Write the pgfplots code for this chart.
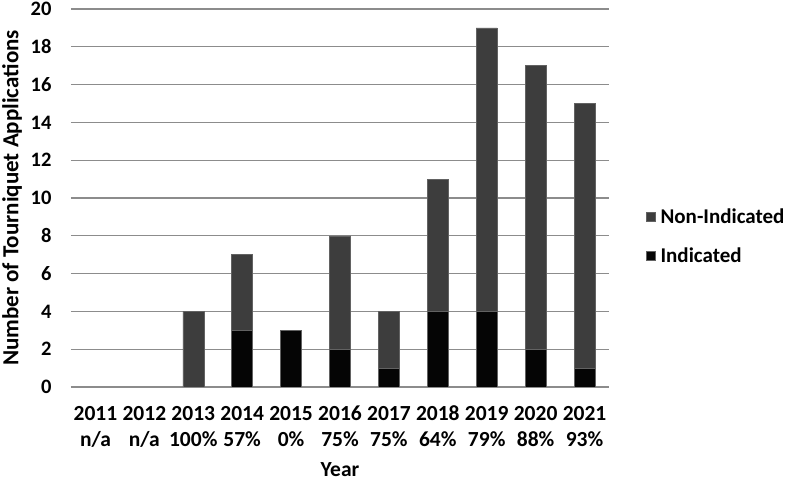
\documentclass[border=0pt]{standalone}
\usepackage{pgfplots}
\pgfplotsset{compat=1.18}
\usepackage{fontspec}
\setmainfont{Carlito}
\definecolor{nonind}{HTML}{3D3D3D}
\definecolor{ind}{HTML}{050505}
\definecolor{gridc}{HTML}{8C8C8C}
\begin{document}
\begin{tikzpicture}
\useasboundingbox (-71pt,-91pt) rectangle (714pt,387pt);
\begin{axis}[
  at={(0pt,0pt)}, anchor=south west,
  scale only axis, width=538pt, height=378pt,
  ybar stacked, bar width=21pt,
  xmin=-0.5, xmax=10.5, ymin=0, ymax=20,
  ytick={0,2,...,20},
  xtick={0,...,10},
  xticklabels={{\strut 2011\\n/a},{\strut 2012\\n/a},{\strut 2013\\100\%},{\strut 2014\\57\%},{\strut 2015\\0\%},{\strut 2016\\75\%},{\strut 2017\\75\%},{\strut 2018\\64\%},{\strut 2019\\79\%},{\strut 2020\\88\%},{\strut 2021\\93\%}},
  xticklabel style={align=center, font=\bfseries\fontsize{21.5}{26}\selectfont},
  xticklabel shift=12pt,
  yticklabel style={font=\bfseries\fontsize{20.5}{24}\selectfont},
  yticklabel shift=16pt,
  /pgf/number format/assume math mode=true,
  major tick length=0pt,
  axis line style={draw=none},
  ymajorgrids, grid style={gridc, line width=1.3pt},
  xlabel={Year}, ylabel={Number of Tourniquet Applications},
  xlabel style={font=\bfseries\fontsize{21.5}{24}\selectfont, yshift=-8pt},
  ylabel style={font=\bfseries\fontsize{23}{26}\selectfont, at={(rel axis cs:0,0.5)}, anchor=center, yshift=59pt},
  legend style={draw=none, at={(1.063,0.398)}, anchor=west, font=\bfseries\fontsize{21}{24}\selectfont, row sep=19pt, cells={anchor=west}, /tikz/every odd column/.append style={column sep=3pt}},
  legend image code/.code={\fill[#1] (0pt,-4.5pt) rectangle (9pt,4.5pt);},
  reverse legend,
]
\addplot[fill=ind, draw=gridc!70!black, line width=0.5pt] coordinates {(0,0) (1,0) (2,0) (3,3) (4,3) (5,2) (6,1) (7,4) (8,4) (9,2) (10,1)};
\addlegendentry{Indicated}
\addplot[fill=nonind, draw=gridc!70!black, line width=0.5pt] coordinates {(0,0) (1,0) (2,4) (3,4) (4,0) (5,6) (6,3) (7,7) (8,15) (9,15) (10,14)};
\addlegendentry{Non-Indicated}
\draw[gridc, line width=1.3pt] (rel axis cs:0,0) -- (rel axis cs:1,0);
\end{axis}
\end{tikzpicture}
\end{document}
